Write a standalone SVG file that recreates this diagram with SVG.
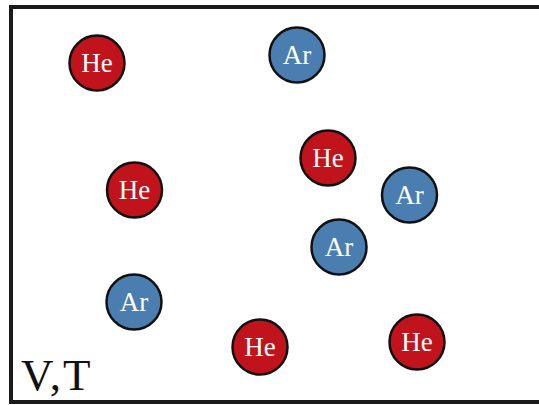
<svg xmlns="http://www.w3.org/2000/svg" width="539" height="405" viewBox="0 0 539 405">
<style>
.he circle{fill:#c0131b;stroke:#111;stroke-width:2.5}
.ar circle{fill:#4a7eb0;stroke:#111;stroke-width:2.5}
.lbl{font-family:"Liberation Serif",serif;font-size:27px;fill:#fff;text-anchor:middle}
.vt{font-family:"Liberation Serif",serif;font-size:45px;fill:#111;letter-spacing:2px}
</style>
<rect x="0" y="0" width="539" height="405" fill="#fff"/>
<rect id="box" x="11" y="7" width="540" height="395" fill="none" stroke="#1a1a1a" stroke-width="4"/>
<g id="he1" class="he"><circle cx="97" cy="63" r="27.5"/><text class="lbl" x="97" y="72">He</text></g>
<g id="ar1" class="ar"><circle cx="297" cy="55" r="27.5"/><text class="lbl" x="297" y="64">Ar</text></g>
<g id="he2" class="he"><circle cx="328" cy="158" r="27.5"/><text class="lbl" x="328" y="167">He</text></g>
<g id="he3" class="he"><circle cx="134.5" cy="190" r="27.5"/><text class="lbl" x="134.5" y="199">He</text></g>
<g id="ar2" class="ar"><circle cx="409.5" cy="195" r="27.5"/><text class="lbl" x="409.5" y="204">Ar</text></g>
<g id="ar3" class="ar"><circle cx="339" cy="247" r="27.5"/><text class="lbl" x="339" y="256">Ar</text></g>
<g id="ar4" class="ar"><circle cx="134" cy="302" r="27.5"/><text class="lbl" x="134" y="311">Ar</text></g>
<g id="he4" class="he"><circle cx="260" cy="347" r="27.5"/><text class="lbl" x="260" y="356">He</text></g>
<g id="he5" class="he"><circle cx="417" cy="342" r="27.5"/><text class="lbl" x="417" y="351">He</text></g>
<text class="vt" x="21" y="390">V,T</text>
<g id="connectors"/>
</svg>
